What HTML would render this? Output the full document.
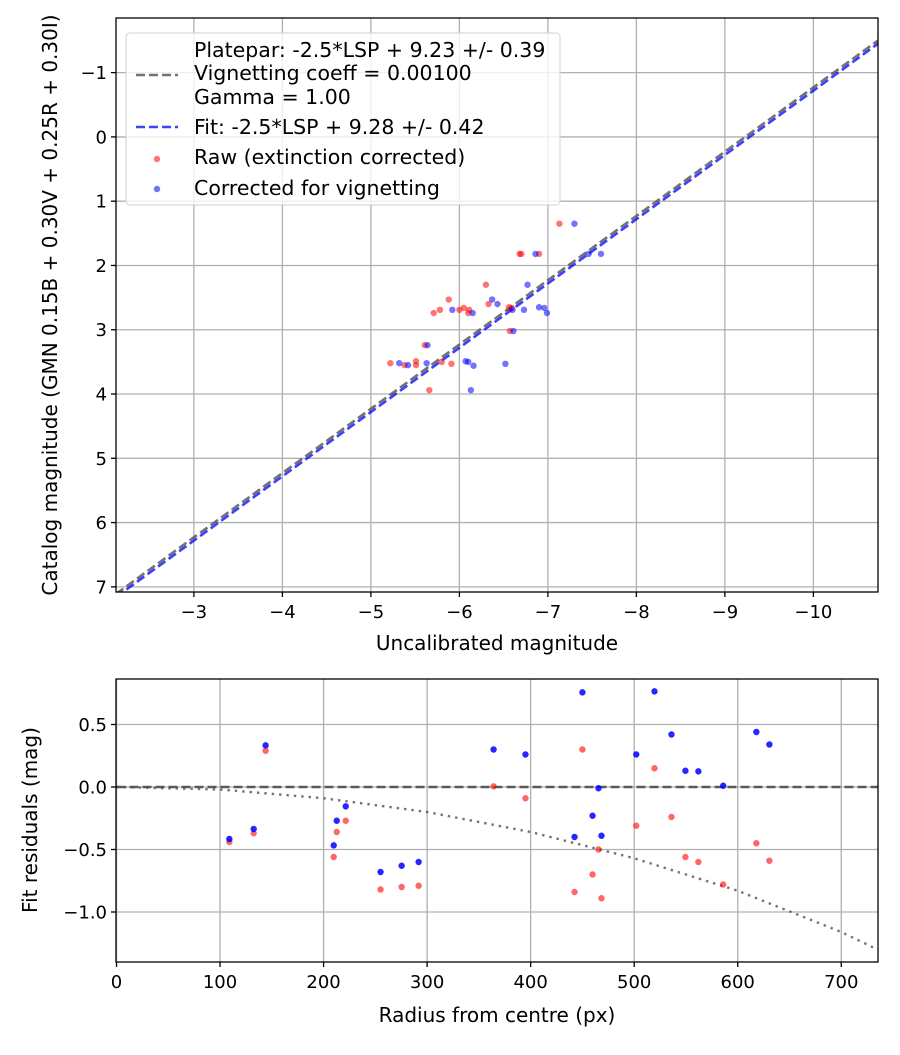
<!DOCTYPE html>
<html><head><meta charset="utf-8"><style>
body{margin:0;background:#fff}
svg text{font-family:"DejaVu Sans","Liberation Sans",sans-serif;fill:#000}
</style></head><body>
<svg id="c" width="900" height="1050" viewBox="0 0 900 1050" xmlns="http://www.w3.org/2000/svg"></svg>
<script>
// Top chart data
const rawX=[-7.13,-6.68,-6.70,-6.90,-6.30,-5.88,-5.78,-5.71,-6.00,-6.05,-6.11,-6.10,-6.33,-6.56,-6.57,-5.61,-5.22,-5.38,-5.51,-5.51,-5.80,-5.91,-5.66,-6.59];
const rawY=[1.35,1.82,1.82,1.82,2.30,2.53,2.69,2.74,2.69,2.66,2.69,2.74,2.60,2.65,3.02,3.24,3.52,3.55,3.49,3.55,3.50,3.53,3.94,2.66];
const corX=[-7.30,-6.86,-7.46,-7.60,-6.77,-6.37,-6.43,-5.92,-6.15,-6.60,-6.73,-6.90,-6.96,-6.99,-6.61,-5.64,-5.32,-5.42,-5.63,-6.07,-6.10,-6.16,-6.52,-6.13];
const corY=[1.35,1.82,1.82,1.82,2.30,2.53,2.60,2.69,2.74,2.69,2.69,2.65,2.66,2.74,3.02,3.24,3.52,3.55,3.52,3.49,3.50,3.56,3.53,3.94];
const xTicks=[-3,-4,-5,-6,-7,-8,-9,-10];
const yTicks=[-1,0,1,2,3,4,5,6,7];
const plateparZP=[9.23];
const fitZP=[9.28];
// Bottom chart data
const resR=[109,132.5,144,209.8,212.7,221.4,255,275.4,291.8,364.2,395,450,442.4,459.8,465.5,468.4,502,519.6,536,549.5,562,586,618,630.6];
const resRaw=[-0.44,-0.37,0.29,-0.56,-0.36,-0.27,-0.82,-0.80,-0.79,0.005,-0.09,0.30,-0.84,-0.70,-0.50,-0.89,-0.31,0.15,-0.24,-0.56,-0.60,-0.78,-0.45,-0.59];
const resCor=[-0.416,-0.336,0.333,-0.467,-0.27,-0.155,-0.68,-0.63,-0.60,0.30,0.26,0.757,-0.40,-0.23,-0.01,-0.39,0.26,0.765,0.42,0.13,0.125,0.01,0.44,0.34];
const vigR=[0,100,200,300,400,500,600,700,735];
const vigV=[0,-0.02,-0.09,-0.2,-0.36,-0.57,-0.83,-1.16,-1.3];
const rTicks=[0,100,200,300,400,500,600,700];
const resTicks=[0.5,0.0,-0.5,-1.0];

const NS="http://www.w3.org/2000/svg";
const svg=document.getElementById('c');
function mk(tag,attrs,parent){const e=document.createElementNS(NS,tag);for(const k in attrs)e.setAttribute(k,attrs[k]);(parent||svg).appendChild(e);return e;}
const fmt=v=>(v<0?'\u2212':'')+Math.abs(v);
const fmt1=v=>(v<0?'\u2212':'')+Math.abs(v).toFixed(1);
const TF=18, AF=20, LF=20.5, PR=3.2;

// top axes
const T={l:116,r:878,t:18,b:592,x0:-2.12,x1:-10.73,y0:-1.85,y1:7.08};
const tx=v=>T.l+(v-T.x0)/(T.x1-T.x0)*(T.r-T.l);
const ty=v=>T.t+(v-T.y0)/(T.y1-T.y0)*(T.b-T.t);
const gTop=mk('g',{});

const cp=mk('clipPath',{id:'cpt'});mk('rect',{x:T.l,y:T.t,width:T.r-T.l,height:T.b-T.t},cp);
xTicks.forEach(v=>{const x=tx(v);
 const l=mk('line',{x1:x,x2:x,y1:T.t,y2:T.b,stroke:'#b0b0b0','stroke-width':1.3},gTop);
 
 mk('line',{x1:x,x2:x,y1:T.b,y2:T.b+5,stroke:'#000','stroke-width':1.3},gTop);
 const t=mk('text',{x:x,y:T.b+26,'text-anchor':'middle','font-size':TF},gTop);t.textContent=fmt(v);
 });
yTicks.forEach(v=>{const y=ty(v);
 const l=mk('line',{x1:T.l,x2:T.r,y1:y,y2:y,stroke:'#b0b0b0','stroke-width':1.3},gTop);
 
 mk('line',{x1:T.l-5,x2:T.l,y1:y,y2:y,stroke:'#000','stroke-width':1.3},gTop);
 const t=mk('text',{x:T.l-9,y:y+6.5,'text-anchor':'end','font-size':TF},gTop);t.textContent=fmt(v);
 });
const lines=mk('g',{'clip-path':'url(#cpt)'},gTop);
function diag(zp,col,name){const l=mk('line',{x1:tx(T.x0),y1:ty(T.x0+zp),x2:tx(T.x1),y2:ty(T.x1+zp),stroke:col,'stroke-width':2.6,'stroke-dasharray':'9,4'},lines);
 }
diag(plateparZP[0],'rgba(80,80,80,0.8)','platepar-line');
diag(fitZP[0],'rgba(0,0,255,0.75)','fit-line');
rawX.forEach((v,i)=>{const c=mk('circle',{cx:tx(v),cy:ty(rawY[i]),r:PR,fill:'rgba(255,0,0,0.55)'},lines);
 });
corX.forEach((v,i)=>{const c=mk('circle',{cx:tx(v),cy:ty(corY[i]),r:PR,fill:'rgba(0,0,255,0.55)'},lines);
 });
mk('rect',{x:T.l,y:T.t,width:T.r-T.l,height:T.b-T.t,fill:'none',stroke:'#000','stroke-width':1.3},gTop);
// legend
const lg=mk('g',{},gTop);
mk('rect',{x:126,y:33,width:434,height:172,rx:4,fill:'rgba(255,255,255,0.8)',stroke:'#d0d0d0','stroke-width':1},lg);
[['Platepar: -2.5*LSP + 9.23 +/- 0.39',57],['Vignetting coeff = 0.00100',80],['Gamma = 1.00',104],['Fit: -2.5*LSP + 9.28 +/- 0.42',134],['Raw (extinction corrected)',164],['Corrected for vignetting',195]].forEach(([s,y])=>{
 const t=mk('text',{x:194,y:y,'font-size':LF},lg);t.textContent=s;});
mk('line',{x1:136,x2:178,y1:75,y2:75,stroke:'rgba(80,80,80,0.8)','stroke-width':2.6,'stroke-dasharray':'9,4'},lg);
mk('line',{x1:136,x2:178,y1:127,y2:127,stroke:'rgba(0,0,255,0.75)','stroke-width':2.6,'stroke-dasharray':'9,4'},lg);
mk('circle',{cx:157,cy:159,r:PR,fill:'rgba(255,0,0,0.55)'},lg);
mk('circle',{cx:157,cy:189,r:PR,fill:'rgba(0,0,255,0.55)'},lg);
let t=mk('text',{x:497,y:650,'text-anchor':'middle','font-size':AF},gTop);t.textContent='Uncalibrated magnitude';

t=mk('text',{x:0,y:0,'text-anchor':'middle','font-size':AF,transform:'translate(57,305) rotate(-90)'},gTop);t.textContent='Catalog magnitude (GMN 0.15B + 0.30V + 0.25R + 0.30I)';


// bottom axes
const B={l:116,r:878,t:679,b:962,x0:-0.5,x1:735.5,y0:0.864,y1:-1.40};
const bx=v=>B.l+(v-B.x0)/(B.x1-B.x0)*(B.r-B.l);
const by=v=>B.t+(v-B.y0)/(B.y1-B.y0)*(B.b-B.t);
const gB=mk('g',{});
const cp2=mk('clipPath',{id:'cpb'});mk('rect',{x:B.l,y:B.t,width:B.r-B.l,height:B.b-B.t},cp2);
rTicks.forEach(v=>{const x=bx(v);
 const l=mk('line',{x1:x,x2:x,y1:B.t,y2:B.b,stroke:'#b0b0b0','stroke-width':1.3},gB);
 
 mk('line',{x1:x,x2:x,y1:B.b,y2:B.b+5,stroke:'#000','stroke-width':1.3},gB);
 const t=mk('text',{x:x,y:B.b+26,'text-anchor':'middle','font-size':TF},gB);t.textContent=v;
 });
resTicks.forEach(v=>{const y=by(v);
 const l=mk('line',{x1:B.l,x2:B.r,y1:y,y2:y,stroke:'#b0b0b0','stroke-width':1.3},gB);
 
 mk('line',{x1:B.l-5,x2:B.l,y1:y,y2:y,stroke:'#000','stroke-width':1.3},gB);
 const t=mk('text',{x:B.l-9,y:y+6.5,'text-anchor':'end','font-size':TF},gB);t.textContent=fmt1(v);
 });
const bl=mk('g',{'clip-path':'url(#cpb)'},gB);
let l=mk('line',{x1:bx(0),x2:bx(735),y1:by(0),y2:by(0),stroke:'rgba(60,60,60,0.8)','stroke-width':2.6,'stroke-dasharray':'9,4'},bl);

l=mk('path',{d:vigR.map((r,i)=>(i?'L':'M')+bx(r)+','+by(vigV[i])).join(''),fill:'none',stroke:'rgba(80,80,80,0.8)','stroke-width':2.4,'stroke-dasharray':'2.4,5'},bl);

resR.forEach((r,i)=>{const c=mk('circle',{cx:bx(r),cy:by(resRaw[i]),r:PR,fill:'rgba(255,0,0,0.6)'},bl);
 });
resR.forEach((r,i)=>{const c=mk('circle',{cx:bx(r),cy:by(resCor[i]),r:PR,fill:'rgba(0,0,255,0.85)'},bl);
 });
mk('rect',{x:B.l,y:B.t,width:B.r-B.l,height:B.b-B.t,fill:'none',stroke:'#000','stroke-width':1.3},gB);
t=mk('text',{x:497,y:1022,'text-anchor':'middle','font-size':AF},gB);t.textContent='Radius from centre (px)';

t=mk('text',{x:0,y:0,'text-anchor':'middle','font-size':AF,transform:'translate(37,820) rotate(-90)'},gB);t.textContent='Fit residuals (mag)';

</script>
</body></html>
